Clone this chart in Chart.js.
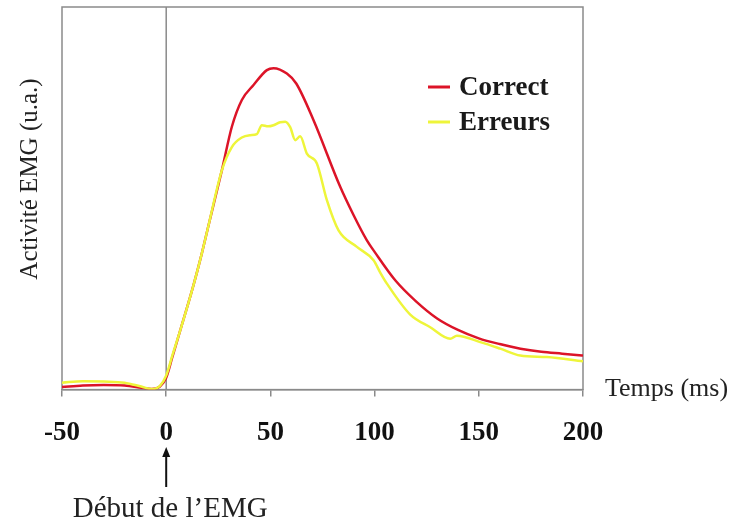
<!DOCTYPE html>
<html>
<head>
<meta charset="utf-8">
<script src="https://cdn.jsdelivr.net/npm/chart.js@4/dist/chart.umd.min.js"></script>
<style>
    html, body { margin: 0; padding: 0; background: #fff; }
    #wrap { width: 729px; height: 522px; }
</style>
</head>
<body>
<div id="wrap"><canvas id="emgChart" width="729" height="522"></canvas></div>
<script>
// --- Data (time in ms, EMG activity in arbitrary units 0-100) ---
const corrTimes = [-50, -40, -30, -20, -12, -7, -3, 0, 3, 6.7, 13.1, 17.1, 20.3, 26.7, 31.5, 36.3, 41.9, 48.3, 51.5, 57.9, 62.4, 70.7, 83.5, 90, 96.3, 100, 110, 120, 130, 140, 150, 160, 170, 180, 190, 200];
const corrValues = [0.65, 1.05, 1.18, 1.05, 0.5, 0.13, 0.8, 3.1, 8.6, 15.4, 27.3, 35.6, 42.9, 57.3, 68.7, 75.7, 79.6, 83.5, 84.0, 82.6, 80.0, 70.4, 53.0, 45.5, 39.0, 36.0, 28.5, 23.0, 18.6, 15.6, 13.4, 11.9, 10.7, 9.9, 9.4, 8.9];

const errTimes = [-50, -40, -30, -20, -12, -7, -3, 0, 3, 6.7, 13.1, 17.1, 20.3, 26.7, 31.5, 36.3, 40.3, 43.5, 45.9, 48.9, 51.5, 54.7, 57.1, 59.5, 61.9, 64.3, 67.5, 72.3, 77.1, 82.7, 91.5, 99.5, 102.7, 105.9, 117.1, 126.7, 136.3, 139.5, 150.7, 160.3, 169.9, 182.7, 200];
const errValues = [1.8, 2.2, 2.1, 1.8, 0.8, 0.13, 1.0, 3.7, 9.0, 15.4, 27.3, 35.6, 42.9, 57.3, 63.4, 65.9, 66.5, 66.8, 69.1, 68.8, 69.1, 69.9, 70.0, 68.6, 65.2, 66.2, 61.7, 59.1, 49.5, 41.6, 37.3, 33.8, 30.6, 27.7, 19.6, 16.3, 13.3, 14.1, 12.4, 10.7, 8.9, 8.5, 7.4];

const seriesNames = ['Correct', 'Erreurs'];
const seriesColors = ['#dc1428', '#eef53a'];
const xTicks = [-50, 0, 50, 100, 150, 200];

const serif = '"Liberation Serif", "Times New Roman", serif';
const axisGray = '#8a8a8a';

function toPoints(times, values) {
    return times.map((t, i) => ({ x: t, y: values[i] }));
}

// --- Extra drawing: frame, onset line, legend, titles, arrow ---
const decorPlugin = {
    id: 'decor',
    beforeDatasetsDraw(chart) {
        const { ctx, chartArea: a, scales } = chart;
        const x0 = scales.x.getPixelForValue(0);
        ctx.save();
        ctx.strokeStyle = axisGray;
        ctx.lineWidth = 1.5;
        ctx.strokeRect(a.left, a.top, a.right - a.left, a.bottom - a.top);
        ctx.beginPath();
        ctx.moveTo(x0, a.top);
        ctx.lineTo(x0, a.bottom);
        ctx.stroke();
        ctx.restore();
    },
    afterDraw(chart) {
        const { ctx, chartArea: a, scales } = chart;
        const x0 = scales.x.getPixelForValue(0);
        ctx.save();

        // legend
        const legendY = [87, 122];
        seriesNames.forEach((name, i) => {
            ctx.strokeStyle = seriesColors[i];
            ctx.lineWidth = 3;
            ctx.beginPath();
            ctx.moveTo(428, legendY[i]);
            ctx.lineTo(450, legendY[i]);
            ctx.stroke();
            ctx.fillStyle = '#1a1a1a';
            ctx.font = 'bold 27px ' + serif;
            ctx.textAlign = 'left';
            ctx.textBaseline = 'middle';
            ctx.fillText(name, 459, legendY[i] + 1);
        });

        // y title
        ctx.fillStyle = '#222';
        ctx.font = '25px ' + serif;
        ctx.save();
        ctx.translate(30, 179);
        ctx.rotate(-Math.PI / 2);
        ctx.textAlign = 'center';
        ctx.textBaseline = 'middle';
        ctx.fillText('Activité EMG (u.a.)', 0, 0);
        ctx.restore();

        // x title
        ctx.font = '26px ' + serif;
        ctx.textAlign = 'left';
        ctx.textBaseline = 'middle';
        ctx.fillText('Temps (ms)', a.right + 22, a.bottom);

        // onset arrow
        ctx.strokeStyle = '#111';
        ctx.fillStyle = '#111';
        ctx.lineWidth = 2;
        ctx.beginPath();
        ctx.moveTo(x0, 487);
        ctx.lineTo(x0, 454);
        ctx.stroke();
        ctx.beginPath();
        ctx.moveTo(x0, 447);
        ctx.lineTo(x0 - 4, 457);
        ctx.lineTo(x0 + 4, 457);
        ctx.closePath();
        ctx.fill();

        ctx.fillStyle = '#222';
        ctx.font = '29px ' + serif;
        ctx.textAlign = 'center';
        ctx.textBaseline = 'alphabetic';
        ctx.fillText('Début de l’EMG', x0 + 4, 517);
        ctx.restore();
    }
};

const ctx = document.getElementById('emgChart').getContext('2d');
const emgChart = new Chart(ctx, {
    type: 'line',
    data: {
        datasets: [
            {
                label: seriesNames[0],
                data: toPoints(corrTimes, corrValues),
                borderColor: seriesColors[0],
                borderWidth: 2.5,
                pointRadius: 0,
                cubicInterpolationMode: 'monotone',
                fill: false,
                order: 2
            },
            {
                label: seriesNames[1],
                data: toPoints(errTimes, errValues),
                borderColor: seriesColors[1],
                borderWidth: 2.5,
                pointRadius: 0,
                cubicInterpolationMode: 'monotone',
                fill: false,
                order: 1
            }
        ]
    },
    options: {
        responsive: false,
        animation: false,
        layout: { padding: { left: 62, right: 146, top: 7, bottom: 53 } },
        plugins: {
            legend: { display: false },
            tooltip: { enabled: false }
        },
        scales: {
            x: {
                type: 'linear',
                min: -50,
                max: 200,
                afterBuildTicks: (scale) => {
                    scale.ticks = xTicks.map(v => ({ value: v }));
                },
                ticks: {
                    font: { family: serif, size: 27, weight: 'bold' },
                    color: '#111',
                    padding: 20
                },
                grid: {
                    drawOnChartArea: false,
                    tickLength: 7,
                    color: axisGray,
                    lineWidth: 1.5
                },
                border: { color: axisGray, width: 1.5 }
            },
            y: {
                display: false,
                min: 0,
                max: 100
            }
        }
    },
    plugins: [decorPlugin]
});
</script>
</body>
</html>
